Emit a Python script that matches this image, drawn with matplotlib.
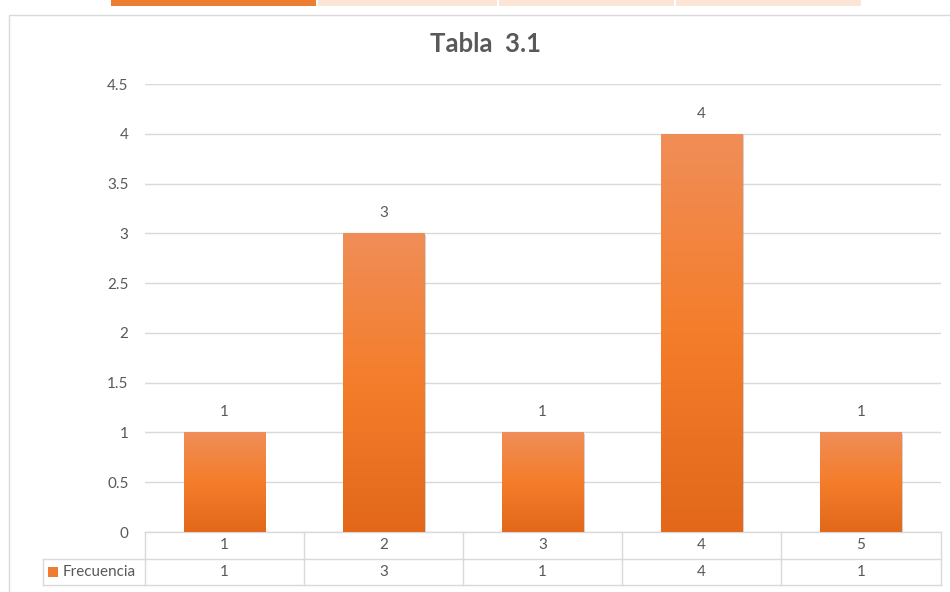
import matplotlib.pyplot as plt
import matplotlib.patheffects as pe
from matplotlib.colors import LinearSegmentedColormap
from matplotlib.patches import Rectangle
from matplotlib.ticker import FuncFormatter, MultipleLocator
import matplotlib.transforms as mtransforms
import numpy as np

plt.rcParams['font.family'] = ['Lato', 'DejaVu Sans']

# data
categories = ['1', '2', '3', '4', '5']
frecuencia = [1, 3, 1, 4, 1]
series_name = 'Frecuencia'
title = 'Tabla  3.1'

text_col = '#595959'
grid_col = '#d9d9d9'
orange = '#ed7d31'
fs = 11

fig = plt.figure(figsize=(9.5, 5.92), dpi=100)
W, H = 950, 592

# screenshot decorations: tabs at the very top and chart frame
tabs = [(111, 316, orange), (318, 497, '#fce4d6'), (499, 674, '#fce4d6'), (676, 861, '#fce4d6')]
for x0, x1, c in tabs:
    fig.patches.append(Rectangle((x0 / W, 1 - 6 / H), (x1 - x0) / W, 6 / H,
                                 transform=fig.transFigure, color=c, lw=0))
fig.patches.append(Rectangle((9 / W, -0.1), 1.2, 1 - 15 / H + 0.1, transform=fig.transFigure,
                             fill=False, edgecolor=grid_col, lw=1))

ax = fig.add_axes([144.5 / W, 60 / H, 796 / W, 448 / H])
x = np.arange(1, len(categories) + 1)
ax.yaxis.set_major_locator(MultipleLocator(0.5))
ax.yaxis.set_major_formatter(FuncFormatter(lambda v, p: '%g' % v))
ax.grid(axis='y', color=grid_col, lw=1)
ax.set_axisbelow(True)
for s in ax.spines.values():
    s.set_visible(False)
ax.tick_params(axis='y', length=0, pad=11.5, labelsize=fs, labelcolor=text_col)
ax.set_xticks([])

# bars with vertical gradient
cmap = LinearSegmentedColormap.from_list('g', ['#e3681a', '#f47d2b', '#f08e58'])
grad = np.linspace(0, 1, 256).reshape(-1, 1)
bars = ax.bar(x, frecuencia, width=0.51, color=orange, lw=0, zorder=2)
for b in bars:
    b.set_path_effects([pe.SimplePatchShadow(offset=(1.2, -1.2), shadow_rgbFace='#808080', alpha=0.35),
                        pe.Normal()])
    im = ax.imshow(grad, cmap=cmap, aspect='auto', origin='lower', zorder=3,
                   extent=[b.get_x(), b.get_x() + b.get_width(), 0, b.get_height()])
    im.set_clip_path(b)
ax.set_xlim(0.5, len(categories) + 0.5)
ax.set_ylim(0, 4.5)

for xi, v in zip(x, frecuencia):
    ax.annotate(str(v), (xi, v), xytext=(0, 14.4), textcoords='offset points',
                ha='center', va='center', fontsize=fs, color=text_col)

fig.text(486 / W, 1 - 44 / H, title, fontsize=18.5, fontweight='bold', color=text_col,
         ha='center', va='center')

# data table below the plot
trans = mtransforms.blended_transform_factory(ax.transData, ax.transAxes)
rh = 26.5 / 448
leg_left = 0.5 + (43 - 144.5) / 796 * len(categories)
lkw = dict(color=grid_col, lw=1, transform=trans, clip_on=False)
ax.plot([0.5, 5.5], [0, 0], **lkw)
ax.plot([leg_left, 5.5], [-rh, -rh], **lkw)
ax.plot([leg_left, 5.5], [-2 * rh, -2 * rh], **lkw)
ax.plot([leg_left, leg_left], [-rh, -2 * rh], **lkw)
for xb in np.arange(0.5, len(categories) + 1):
    ax.plot([xb, xb], [0, -2 * rh], **lkw)
for xi, c, v in zip(x, categories, frecuencia):
    ax.text(xi, -0.5 * rh, c, transform=trans, ha='center', va='center', fontsize=fs, color=text_col)
    ax.text(xi, -1.5 * rh, str(v), transform=trans, ha='center', va='center', fontsize=fs, color=text_col)
key_w = 10 / 796 * len(categories)
ax.add_patch(Rectangle((leg_left + 5 / 796 * len(categories), -1.5 * rh - 5 / 448), key_w, 10 / 448,
                       transform=trans, color=orange, lw=0, clip_on=False))
ax.text(leg_left + 20 / 796 * len(categories), -1.5 * rh, series_name, transform=trans,
        ha='left', va='center', fontsize=fs, color=text_col)

fig.savefig('out.png', dpi=100)
